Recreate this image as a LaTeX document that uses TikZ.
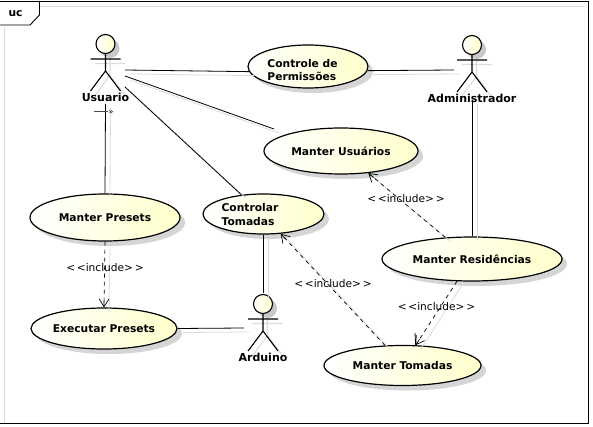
\documentclass[tikz,border=0pt]{standalone}
\usepackage{fontspec}
\setmainfont{DejaVu Sans}
\usetikzlibrary{arrows.meta,shapes.geometric,calc}
\definecolor{ucyellow}{HTML}{FFFFCC}
\definecolor{ucshadow}{HTML}{C8C8C8}
\definecolor{connshadow}{HTML}{DCDCDC}
\tikzset{
 usecase/.style={ellipse,draw=black,line width=1.2pt,left color=white,right color=ucyellow,inner sep=0pt,font=\bfseries\fontsize{10.7}{13.5}\selectfont,align=left},
 casetext/.style={font=\bfseries\fontsize{10.7}{13.5}\selectfont,align=left,inner sep=0pt},
 actorlabel/.style={font=\bfseries\fontsize{11}{13}\selectfont,inner sep=0pt},
 assoc/.style={draw=black,line width=.8pt},
 incl/.style={draw=black,line width=.7pt,dash pattern=on 4pt off 4pt},
 inclhead/.style={draw=black,line width=.7pt,-{Straight Barb[length=8pt,width=10pt,line width=.7pt]}},
 shadowline/.style={draw=connshadow,line width=.8pt},
 incllabel/.style={font=\fontsize{10.6}{13}\selectfont,inner sep=0pt},
 actorline/.style={draw=black,line width=1.1pt},
 actorshadow/.style={draw=connshadow,line width=1.1pt},
}
\newcommand{\ucactor}[4]{%
 \begin{scope}[shift={(#2+4.5,#3+4.5)}]
  \fill[ucshadow] (0,0) circle (9.5);
  \draw[actorshadow] (0,9.5)--(0,27) (-15,15)--(15,15) (-15,47)--(0,27)--(15,47);
 \end{scope}
 \node[circle,draw=black,line width=1.1pt,minimum size=19pt,inner sep=0pt,left color=white,right color=ucyellow] (#1head) at (#2,#3) {};
 \begin{scope}[shift={(#2,#3)}]
  \draw[actorline] (0,9.5)--(0,27) (-15,15)--(15,15) (-15,47)--(0,27)--(15,47);
 \end{scope}
 \node[actorlabel] (#1) at (#2,#3+53.5) {#4};
}
\newcommand{\ucconn}[2]{%
 \draw[shadowline] ([shift={(5,4)}]#1) -- ([shift={(5,4)}]#2);
 \draw[assoc] (#1) -- (#2);
}
\newcommand{\ucincl}[2]{%
 \draw[shadowline] ([shift={(5,4)}]#1) -- ([shift={(5,4)}]#2);
 \path[incl,shorten >=2pt] (#1) -- (#2);
 \draw[inclhead] ($(#2)!7pt!(#1)$) -- (#2);
}
\begin{document}
\begin{tikzpicture}[x=1pt,y=-1pt]
\useasboundingbox (0,0) rectangle (593,427);
\fill[white] (0,0) rectangle (593,427);
% frame
\draw[connshadow,line width=.8pt] (4,27)--(4,424) (40,6)--(584,6);
\draw[black,line width=.9pt] (0,1)--(588.5,1)--(588.5,423)--(0,423);
\draw[black,line width=.9pt] (0,25)--(30,25)--(39.5,15)--(39.5,1);
\node[font=\bfseries\fontsize{10.7}{13}\selectfont,inner sep=0pt] (tab) at (15.5,14) {uc};
% shadows of the use cases
\foreach \cx/\cy/\rx/\ry in {308/66.5/60/21.5,341/151/77/23,105/217.5/75/23.5,263.5/214/60.5/20,104/328.5/73/20.5,472/259/90/22,402.5/365.5/78.5/20}{
 \fill[ucshadow,opacity=.75] (\cx+5,\cy+5) ellipse ({\rx} and {\ry});
}
% use cases
\node[usecase,minimum width=120pt,minimum height=43pt] (controle) at (308,66.5) {};
\node[casetext] (controletext) at (302.5,70) {Controle de\\Permissões};
\node[usecase,minimum width=154pt,minimum height=46pt] (usuarios) at (341,151) {Manter Usuários};
\node[usecase,minimum width=150pt,minimum height=47pt] (presets) at (105,217.5) {Manter Presets};
\node[usecase,minimum width=121pt,minimum height=40pt] (controlar) at (263.5,214) {};
\node[casetext] (controlartext) at (250,214.5) {Controlar\\Tomadas};
\node[usecase,minimum width=146pt,minimum height=41pt] (executar) at (104,328.5) {Executar Presets};
\node[usecase,minimum width=180pt,minimum height=44pt] (residencias) at (472,259) {Manter Residências};
\node[usecase,minimum width=157pt,minimum height=40pt] (mtomadas) at (402.5,365.5) {Manter Tomadas};
% actors
\ucactor{usuario}{105.5}{44}{Usuario}
\ucactor{admin}{472}{45}{Administrador}
\ucactor{arduino}{263}{304}{Arduino}
% free ends beside the actors
\coordinate (uE1) at (125,70);
\coordinate (uE2) at (125,76);
\coordinate (uE3) at (125,87);
\coordinate (uS) at (105.5,104);
\coordinate (aW) at (454,70);
\coordinate (aS) at (472,100);
\coordinate (dN) at (263.5,293);
\coordinate (dW) at (244,328);
\coordinate (mUN) at (274,129);
% associations
\ucconn{uE1}{controle.185}
\ucconn{controle.-4}{aW}
\ucconn{uE2}{mUN}
\ucconn{uE3}{controlar.139}
\ucconn{uS}{presets.90}
\ucconn{aS}{residencias.90}
\ucconn{controlar.270}{dN}
\ucconn{executar.0}{dW}
% includes
\ucincl{presets.270}{executar.90}
\ucincl{residencias.141}{usuarios.-39}
\ucincl{residencias.236}{mtomadas.57}
\ucincl{mtomadas.131}{controlar.-49}
% details
\node[inner sep=0pt,font=\fontsize{8}{10}\selectfont] (navmark) at (111,112) {»};
\draw[draw=black!70,line width=1pt] (94,112)--(navmark.west);
\coordinate (tick) at (415,333);
\draw[black,line width=.8pt] (tick)--(mtomadas.57);
% labels
\node[incllabel] (l1) at (105,268) {<\,<include>\,>};
\node[incllabel] (l2) at (406,198.5) {<\,<include>\,>};
\node[incllabel] (l3) at (436.5,306.5) {<\,<include>\,>};
\node[incllabel] (l4) at (333,284) {<\,<include>\,>};
\end{tikzpicture}
\end{document}
